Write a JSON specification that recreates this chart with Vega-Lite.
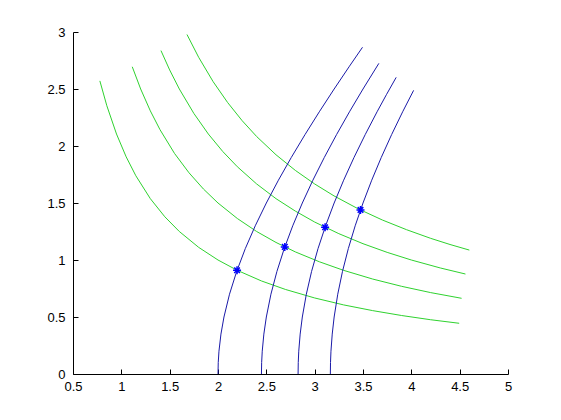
{
  "$schema": "https://vega.github.io/schema/vega-lite/v6.json",
  "width": 435,
  "height": 342,
  "autosize": {"type": "none"},
  "padding": {"left": 73, "top": 32, "right": 53, "bottom": 46},
  "background": "white",
  "config": {
    "view": {"stroke": null},
    "axis": {
      "grid": false,
      "domainColor": "black",
      "tickColor": "black",
      "labelColor": "black",
      "labelFont": "Liberation Sans",
      "labelFontSize": 13,
      "tickSize": -5,
      "title": null,
      "labelFlush": false,
      "labelOverlap": false
    }
  },
  "datasets": {
    "green": [
      {"c": 2, "x": 0.778, "y": 2.571}, {"c": 2, "x": 0.85, "y": 2.353}, {"c": 2, "x": 0.95, "y": 2.105}, {"c": 2, "x": 1.05, "y": 1.905}, {"c": 2, "x": 1.15, "y": 1.739}, {"c": 2, "x": 1.3, "y": 1.538}, {"c": 2, "x": 1.45, "y": 1.379}, {"c": 2, "x": 1.6, "y": 1.25}, {"c": 2, "x": 1.8, "y": 1.111}, {"c": 2, "x": 2.0, "y": 1.0}, {"c": 2, "x": 2.2, "y": 0.909}, {"c": 2, "x": 2.45, "y": 0.816}, {"c": 2, "x": 2.7, "y": 0.741}, {"c": 2, "x": 3.0, "y": 0.667}, {"c": 2, "x": 3.3, "y": 0.606}, {"c": 2, "x": 3.6, "y": 0.556}, {"c": 2, "x": 3.9, "y": 0.513}, {"c": 2, "x": 4.2, "y": 0.476}, {"c": 2, "x": 4.495, "y": 0.445},
      {"c": 3, "x": 1.113, "y": 2.695}, {"c": 3, "x": 1.2, "y": 2.5}, {"c": 3, "x": 1.3, "y": 2.308}, {"c": 3, "x": 1.4, "y": 2.143}, {"c": 3, "x": 1.55, "y": 1.935}, {"c": 3, "x": 1.7, "y": 1.765}, {"c": 3, "x": 1.85, "y": 1.622}, {"c": 3, "x": 2.0, "y": 1.5}, {"c": 3, "x": 2.2, "y": 1.364}, {"c": 3, "x": 2.4, "y": 1.25}, {"c": 3, "x": 2.6, "y": 1.154}, {"c": 3, "x": 2.8, "y": 1.071}, {"c": 3, "x": 3.05, "y": 0.984}, {"c": 3, "x": 3.3, "y": 0.909}, {"c": 3, "x": 3.6, "y": 0.833}, {"c": 3, "x": 3.9, "y": 0.769}, {"c": 3, "x": 4.2, "y": 0.714}, {"c": 3, "x": 4.52, "y": 0.664},
      {"c": 4, "x": 1.41, "y": 2.837}, {"c": 4, "x": 1.5, "y": 2.667}, {"c": 4, "x": 1.6, "y": 2.5}, {"c": 4, "x": 1.75, "y": 2.286}, {"c": 4, "x": 1.9, "y": 2.105}, {"c": 4, "x": 2.05, "y": 1.951}, {"c": 4, "x": 2.2, "y": 1.818}, {"c": 4, "x": 2.4, "y": 1.667}, {"c": 4, "x": 2.6, "y": 1.538}, {"c": 4, "x": 2.8, "y": 1.429}, {"c": 4, "x": 3.0, "y": 1.333}, {"c": 4, "x": 3.25, "y": 1.231}, {"c": 4, "x": 3.5, "y": 1.143}, {"c": 4, "x": 3.75, "y": 1.067}, {"c": 4, "x": 4.0, "y": 1.0}, {"c": 4, "x": 4.3, "y": 0.93}, {"c": 4, "x": 4.56, "y": 0.877},
      {"c": 5, "x": 1.679, "y": 2.978}, {"c": 5, "x": 1.8, "y": 2.778}, {"c": 5, "x": 1.95, "y": 2.564}, {"c": 5, "x": 2.1, "y": 2.381}, {"c": 5, "x": 2.25, "y": 2.222}, {"c": 5, "x": 2.4, "y": 2.083}, {"c": 5, "x": 2.6, "y": 1.923}, {"c": 5, "x": 2.8, "y": 1.786}, {"c": 5, "x": 3.0, "y": 1.667}, {"c": 5, "x": 3.2, "y": 1.5625}, {"c": 5, "x": 3.45, "y": 1.449}, {"c": 5, "x": 3.7, "y": 1.351}, {"c": 5, "x": 3.95, "y": 1.266}, {"c": 5, "x": 4.2, "y": 1.19}, {"c": 5, "x": 4.4, "y": 1.136}, {"c": 5, "x": 4.6, "y": 1.087}
    ],
    "blue": [
      {"c": 4, "x": 2.0, "y": 0}, {"c": 4, "x": 2.0025, "y": 0.1}, {"c": 4, "x": 2.01, "y": 0.2}, {"c": 4, "x": 2.0304, "y": 0.35}, {"c": 4, "x": 2.0616, "y": 0.5}, {"c": 4, "x": 2.119, "y": 0.7}, {"c": 4, "x": 2.1932, "y": 0.9}, {"c": 4, "x": 2.2825, "y": 1.1}, {"c": 4, "x": 2.3854, "y": 1.3}, {"c": 4, "x": 2.5, "y": 1.5}, {"c": 4, "x": 2.6249, "y": 1.7}, {"c": 4, "x": 2.7586, "y": 1.9}, {"c": 4, "x": 2.9, "y": 2.1}, {"c": 4, "x": 3.048, "y": 2.3}, {"c": 4, "x": 3.2016, "y": 2.5}, {"c": 4, "x": 3.3601, "y": 2.7}, {"c": 4, "x": 3.4949, "y": 2.866},
      {"c": 6, "x": 2.4495, "y": 0}, {"c": 6, "x": 2.4515, "y": 0.1}, {"c": 6, "x": 2.4576, "y": 0.2}, {"c": 6, "x": 2.4744, "y": 0.35}, {"c": 6, "x": 2.5, "y": 0.5}, {"c": 6, "x": 2.5475, "y": 0.7}, {"c": 6, "x": 2.6096, "y": 0.9}, {"c": 6, "x": 2.6851, "y": 1.1}, {"c": 6, "x": 2.7731, "y": 1.3}, {"c": 6, "x": 2.8723, "y": 1.5}, {"c": 6, "x": 2.9816, "y": 1.7}, {"c": 6, "x": 3.1, "y": 1.9}, {"c": 6, "x": 3.2265, "y": 2.1}, {"c": 6, "x": 3.3601, "y": 2.3}, {"c": 6, "x": 3.5, "y": 2.5}, {"c": 6, "x": 3.6641, "y": 2.725},
      {"c": 8, "x": 2.8284, "y": 0}, {"c": 8, "x": 2.8302, "y": 0.1}, {"c": 8, "x": 2.8355, "y": 0.2}, {"c": 8, "x": 2.85, "y": 0.35}, {"c": 8, "x": 2.8723, "y": 0.5}, {"c": 8, "x": 2.9138, "y": 0.7}, {"c": 8, "x": 2.9682, "y": 0.9}, {"c": 8, "x": 3.0348, "y": 1.1}, {"c": 8, "x": 3.1129, "y": 1.3}, {"c": 8, "x": 3.2016, "y": 1.5}, {"c": 8, "x": 3.3, "y": 1.7}, {"c": 8, "x": 3.4073, "y": 1.9}, {"c": 8, "x": 3.5228, "y": 2.1}, {"c": 8, "x": 3.6455, "y": 2.3}, {"c": 8, "x": 3.742, "y": 2.45}, {"c": 8, "x": 3.8432, "y": 2.602},
      {"c": 10, "x": 3.1623, "y": 0}, {"c": 10, "x": 3.1639, "y": 0.1}, {"c": 10, "x": 3.1686, "y": 0.2}, {"c": 10, "x": 3.1816, "y": 0.35}, {"c": 10, "x": 3.2016, "y": 0.5}, {"c": 10, "x": 3.2388, "y": 0.7}, {"c": 10, "x": 3.2879, "y": 0.9}, {"c": 10, "x": 3.3481, "y": 1.1}, {"c": 10, "x": 3.4191, "y": 1.3}, {"c": 10, "x": 3.5, "y": 1.5}, {"c": 10, "x": 3.5903, "y": 1.7}, {"c": 10, "x": 3.6892, "y": 1.9}, {"c": 10, "x": 3.7961, "y": 2.1}, {"c": 10, "x": 3.9102, "y": 2.3}, {"c": 10, "x": 4.0237, "y": 2.488}
    ],
    "stars": [
      {"x": 2.197, "y": 0.91}, {"x": 2.691, "y": 1.115}, {"x": 3.108, "y": 1.287}, {"x": 3.474, "y": 1.439}
    ]
  },
  "layer": [
    {
      "data": {"name": "green"},
      "mark": {"type": "line", "color": "#2fd22f", "strokeWidth": 1, "clip": true},
      "encoding": {
        "x": {"field": "x", "type": "quantitative", "scale": {"domain": [0.5, 5], "nice": false, "zero": false}, "axis": {"values": [0.5, 1, 1.5, 2, 2.5, 3, 3.5, 4, 4.5, 5], "format": "~g", "labelPadding": 11, "orient": "bottom"}},
        "y": {"field": "y", "type": "quantitative", "scale": {"domain": [0, 3], "nice": false, "zero": false}, "axis": {"values": [0, 0.5, 1, 1.5, 2, 2.5, 3], "format": "~g", "labelPadding": 13, "orient": "left"}},
        "detail": {"field": "c", "type": "nominal"},
        "order": {"field": "x", "type": "quantitative"}
      }
    },
    {
      "data": {"name": "blue"},
      "mark": {"type": "line", "color": "#1a1aa8", "strokeWidth": 1, "clip": true},
      "encoding": {
        "x": {"field": "x", "type": "quantitative"},
        "y": {"field": "y", "type": "quantitative"},
        "detail": {"field": "c", "type": "nominal"},
        "order": {"field": "y", "type": "quantitative"}
      }
    },
    {
      "data": {"name": "stars"},
      "mark": {"type": "point", "shape": "M-1,0L1,0M0,-1L0,1M-0.7,-0.7L0.7,0.7M-0.7,0.7L0.7,-0.7", "filled": false, "stroke": "#0000ff", "strokeWidth": 1.5, "size": 64, "opacity": 1},
      "encoding": {
        "x": {"field": "x", "type": "quantitative"},
        "y": {"field": "y", "type": "quantitative"}
      }
    }
  ]
}
